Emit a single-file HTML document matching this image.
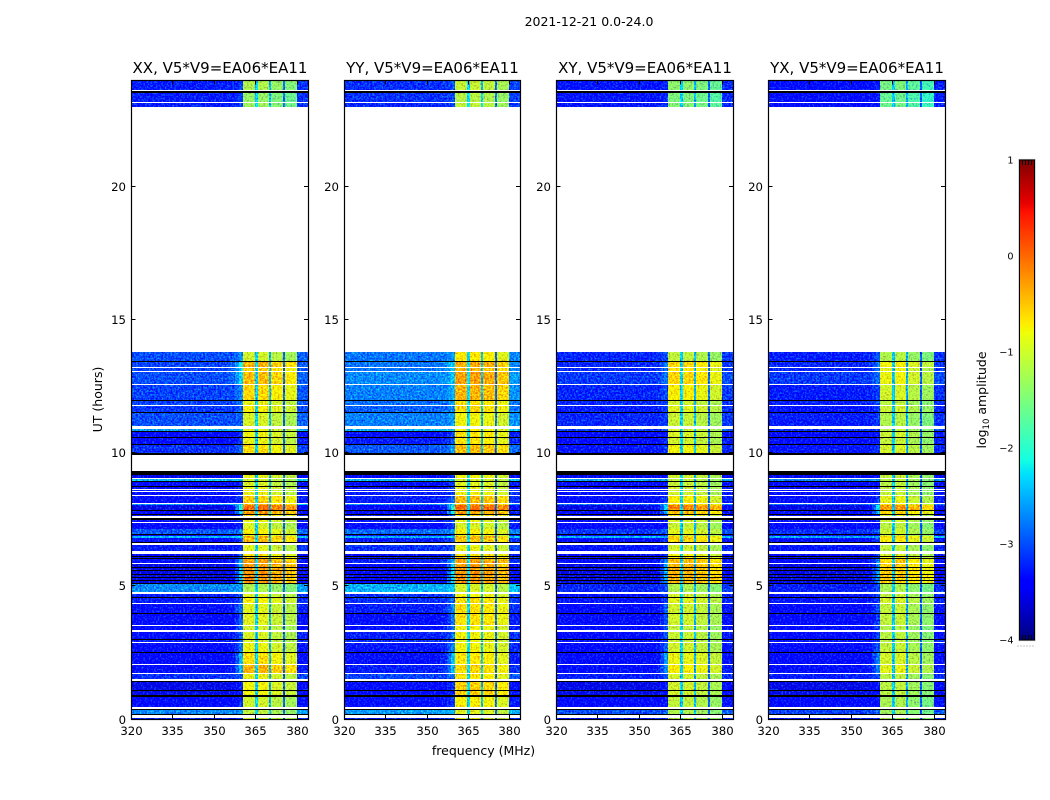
<!DOCTYPE html>
<html lang="en">
<head>
<meta charset="utf-8">
<title>2021-12-21 0.0-24.0</title>
<style>
html,body{margin:0;padding:0;background:#fff;}
svg{display:block;}
text{font-family:"DejaVu Sans","Liberation Sans",sans-serif;fill:#000;}
</style>
</head>
<body>
<svg id="figure" xmlns="http://www.w3.org/2000/svg" width="1050" height="800" viewBox="0 0 1050 800">
  <defs>
    <filter id="speckle-a" filterUnits="userSpaceOnUse" x="0" y="0" width="1050" height="800" color-interpolation-filters="sRGB">
      <feTurbulence type="fractalNoise" baseFrequency="0.55" numOctaves="2" seed="3" result="n"/>
      <feColorMatrix in="n" type="matrix" values="0.4 0 0 0 0.3  1.6 0 0 0 -0.3  0 0 0 0 0.5  0 0 0 0 1" result="m"/>
      <feComposite in="SourceGraphic" in2="m" operator="arithmetic" k1="0" k2="1" k3="0.75" k4="-0.375" result="c"/>
      <feComposite in="c" in2="SourceGraphic" operator="in"/>
    </filter>
  </defs>
  <text x="589" y="26" font-size="12.5" text-anchor="middle">2021-12-21 0.0-24.0</text>
  <text x="483.5" y="755" font-size="12.5" text-anchor="middle">frequency (MHz)</text>
  <text transform="translate(102,399.5) rotate(-90)" font-size="12.5" text-anchor="middle">UT (hours)</text>
  <text transform="translate(986,400) rotate(-90)" font-size="12.5" text-anchor="middle">log<tspan font-size="8.5" dy="3">10</tspan><tspan dy="-3"> amplitude</tspan></text>
  <g id="panels"></g>
  <g id="colorbar"></g>
</svg>
<script>
// ---- axis ticks ----
const hourTicks = [0, 5, 10, 15, 20];
const freqTicks = [320, 335, 350, 365, 380];
const colorbarTicks = [1, 0, -1, -2, -3, -4];

// ---- panels ----
const panelTitles = ["XX, V5*V9=EA06*EA11", "YY, V5*V9=EA06*EA11", "XY, V5*V9=EA06*EA11", "YX, V5*V9=EA06*EA11"];

// ---- time rows: bottom hour of each row, walking down from 24 h ----
const rowBottoms = [
  23.64,23.61,23.53,23.19,23.16,23.01,13.80,13.46,13.43,13.24,
  13.20,13.09,13.05,12.60,12.56,12.00,11.96,11.81,11.77,11.55,
  11.51,11.02,10.91,10.84,10.80,10.61,10.57,10.35,10.31,10.01,
  9.93,9.33,9.18,9.07,9.03,8.96,8.92,8.77,8.73,8.66,
  8.62,8.58,8.55,8.43,8.39,8.13,8.09,8.06,7.87,7.83,
  7.72,7.68,7.64,7.57,7.51,7.42,7.38,7.17,7.14,6.97,
  6.93,6.89,6.82,6.67,6.63,6.55,6.33,6.23,6.14,6.10,
  6.07,6.03,5.88,5.84,5.73,5.69,5.61,5.58,5.46,5.43,
  5.35,5.31,5.24,5.20,5.13,5.09,4.79,4.71,4.60,4.56,
  4.38,4.34,4.00,3.96,3.55,3.51,3.36,3.29,3.02,2.99,
  2.91,2.87,2.54,2.50,2.08,2.05,1.75,1.71,1.52,1.45,
  1.39,1.11,1.07,0.92,0.85,0.47,0.41,0.38,0.21,0.17,
  0.06,0
];
// d = data, w = no data (blank), k = flagged (black)
const rowKinds =
  "dwkdwdwdkd" + "wdwdwdkdwd" + "kdwdkdkdkd" + "kwkdwdkdkd" +
  "wdwdwdwddk" + "dkdwkdwdwd" + "kdddkwdwdk" + "dkdwdkdkdk" +
  "dkdkdkdwdk" + "dwdkdwdwdk" + "dwdkdwdwdw" + "kdkdkdwkdk" + "wd";

// ---- frequency columns (MHz edges) ----
const channelEdges = [320,328,340,350,355,357.5,359,360.4,364.8,365.8,369.8,370.5,374.9,375.6,379.9,384];
const channelRoles = ["L","L","L","L","R","R","R","B","N","B","N","B","N","B","T"];
const rampMix = [0.12, 0.5, 1];

// ---- log10 amplitude, per data row: off-band level ----
const xxLeft = [
  -3.25,-3.25,-3.25,-3.0,-3.05,-3.05,-3.0,-3.05,-3.05,-3.1,
  -3.0,-2.6,-3.45,-3.35,-3.15,-3.55,-2.5,-3.45,-3.35,-3.25,
  -3.35,-3.35,-2.6,-3.55,-3.45,-3.35,-3.35,-3.45,-2.95,-3.45,
  -2.5,-3.35,-3.25,-3.45,-3.35,-3.35,-3.55,-3.55,-3.55,-3.55,
  -3.55,-3.55,-2.7,-3.25,-3.25,-3.35,-3.45,-3.45,-3.35,-3.25,
  -3.4,-3.45,-3.35,-3.15,-3.55,-3.55,-3.45,-2.7,-3.25];
const yyLeft = [
  -3.15,-3.15,-3.2,-2.8,-2.8,-2.8,-2.7,-2.75,-2.85,-2.9,
  -2.75,-2.5,-3.35,-3.25,-2.95,-3.45,-2.5,-3.35,-3.35,-3.25,
  -3.25,-3.25,-2.7,-3.45,-3.35,-3.25,-3.25,-3.35,-2.85,-3.35,
  -2.5,-3.25,-3.15,-3.35,-3.25,-3.25,-3.45,-3.45,-3.45,-3.45,
  -3.45,-3.45,-2.5,-3.15,-3.15,-3.25,-3.35,-3.35,-3.25,-3.15,
  -3.3,-3.35,-3.25,-3.05,-3.45,-3.45,-3.35,-2.6,-3.25];
const xyLeft = [
  -3.3,-3.3,-3.3,-3.2,-3.2,-3.2,-3.1,-3.2,-3.2,-3.25,
  -3.2,-3.1,-3.4,-3.35,-3.3,-3.5,-2.6,-3.45,-3.4,-3.3,
  -3.35,-3.35,-2.8,-3.55,-3.45,-3.4,-3.35,-3.45,-3.1,-3.45,
  -2.5,-3.4,-3.3,-3.45,-3.4,-3.4,-3.55,-3.55,-3.55,-3.55,
  -3.55,-3.55,-3.2,-3.35,-3.3,-3.4,-3.45,-3.45,-3.4,-3.3,
  -3.4,-3.45,-3.35,-3.25,-3.55,-3.55,-3.45,-3.0,-3.3];
const yxLeft = [
  -3.35,-3.35,-3.35,-3.25,-3.2,-3.2,-3.1,-3.25,-3.25,-3.3,
  -3.25,-3.15,-3.4,-3.35,-3.3,-3.5,-2.7,-3.45,-3.4,-3.35,
  -3.35,-3.35,-2.85,-3.55,-3.45,-3.4,-3.35,-3.45,-3.15,-3.45,
  -2.55,-3.4,-3.3,-3.45,-3.4,-3.4,-3.55,-3.55,-3.55,-3.55,
  -3.55,-3.55,-3.25,-3.35,-3.3,-3.4,-3.45,-3.45,-3.4,-3.3,
  -3.4,-3.45,-3.35,-3.25,-3.55,-3.55,-3.45,-3.05,-3.3];

// ---- per data row: level at the low edge of the hot band ----
const xxRamp = [
  -3.1,-3.1,-3.1,-2.7,-2.2,-2.3,-2.3,-2.7,-2.8,-2.9,
  -2.9,-2.5,-3.2,-3.1,-2.9,-3.3,-2.4,-3.2,-3.2,-3.2,
  -3.2,-3.1,-2.3,-2.1,-2.3,-3.0,-3.1,-3.2,-2.7,-3.2,
  -2.3,-3.0,-3.1,-3.0,-3.0,-2.6,-2.5,-2.4,-2.4,-2.4,
  -2.4,-2.5,-2.6,-3.0,-3.0,-2.8,-2.9,-2.9,-2.9,-3.0,
  -2.8,-2.5,-2.5,-2.9,-3.2,-3.3,-3.2,-2.6,-3.1];
const yyRamp = [
  -3.0,-3.0,-3.0,-2.6,-2.3,-2.4,-2.4,-2.5,-2.6,-2.7,
  -2.6,-2.4,-3.0,-2.9,-2.6,-3.2,-2.4,-3.1,-3.1,-3.1,
  -3.1,-2.9,-2.3,-2.0,-2.2,-2.9,-3.0,-3.1,-2.6,-3.1,
  -2.3,-2.9,-3.0,-2.9,-2.9,-2.5,-2.4,-2.3,-2.3,-2.3,
  -2.3,-2.4,-2.4,-2.9,-2.9,-2.7,-2.8,-2.8,-2.8,-2.9,
  -2.7,-2.4,-2.4,-2.8,-3.1,-3.2,-3.1,-2.5,-3.0];
const xyRamp = [
  -3.2,-3.2,-3.2,-3.0,-2.8,-2.8,-2.8,-3.0,-3.0,-3.1,
  -3.1,-3.0,-3.3,-3.2,-3.1,-3.4,-2.6,-3.3,-3.3,-3.2,
  -3.2,-3.1,-2.6,-2.3,-2.5,-3.0,-3.2,-3.3,-2.9,-3.3,
  -2.5,-3.1,-3.2,-3.1,-3.1,-2.7,-2.6,-2.5,-2.5,-2.5,
  -2.5,-2.6,-3.0,-3.1,-3.1,-2.9,-3.0,-3.0,-3.0,-3.1,
  -2.9,-2.6,-2.7,-3.0,-3.3,-3.4,-3.3,-2.9,-3.2];
const yxRamp = [
  -3.25,-3.25,-3.25,-3.0,-2.8,-2.85,-2.85,-3.05,-3.05,-3.1,
  -3.1,-3.0,-3.3,-3.25,-3.1,-3.4,-2.7,-3.3,-3.3,-3.2,
  -3.2,-3.1,-2.7,-2.3,-2.6,-3.05,-3.2,-3.3,-2.95,-3.3,
  -2.6,-3.1,-3.2,-3.1,-3.1,-2.75,-2.7,-2.6,-2.6,-2.6,
  -2.6,-2.7,-3.05,-3.1,-3.1,-3.0,-3.05,-3.05,-3.05,-3.1,
  -2.95,-2.7,-2.75,-3.0,-3.3,-3.4,-3.3,-2.95,-3.2];

// ---- per data row: level of the hot band ----
const xxHot = [
  -1.25,-1.4,-1.35,-1.05,-0.45,-0.6,-0.5,-0.65,-0.9,-0.8,
  -1.0,-0.9,-0.85,-0.9,-0.7,-0.9,-1.05,-1.0,-0.9,-0.9,
  -0.9,-0.6,-0.5,-0.05,-0.3,-0.7,-0.9,-1.0,-0.8,-0.9,
  -0.45,-0.5,-0.95,-0.7,-0.6,-0.35,-0.3,-0.3,-0.3,-0.25,
  -0.3,-0.3,-1.25,-0.95,-0.8,-0.95,-0.95,-1.05,-1.0,-1.0,
  -0.9,-0.7,-0.45,-0.9,-0.85,-0.85,-1.05,-1.15,-1.0];
const yyHot = [
  -1.1,-1.2,-1.15,-0.75,-0.4,-0.5,-0.35,-0.45,-0.7,-0.65,
  -0.85,-0.8,-0.7,-0.75,-0.5,-0.85,-1.0,-0.95,-0.9,-0.9,
  -0.85,-0.5,-0.45,-0.05,-0.35,-0.7,-0.9,-1.0,-0.8,-0.9,
  -0.45,-0.55,-0.9,-0.7,-0.6,-0.35,-0.35,-0.3,-0.3,-0.3,
  -0.3,-0.3,-1.0,-0.85,-0.7,-0.7,-0.7,-0.85,-0.85,-0.9,
  -0.85,-0.75,-0.65,-0.75,-0.6,-0.6,-0.8,-0.95,-0.9];
const xyHot = [
  -1.4,-1.5,-1.45,-1.1,-0.6,-0.7,-0.6,-0.75,-1.0,-0.9,
  -1.05,-1.0,-0.95,-1.0,-0.8,-1.0,-1.1,-1.05,-1.0,-1.0,
  -1.0,-0.75,-0.6,-0.15,-0.45,-0.8,-0.95,-1.05,-0.9,-1.0,
  -0.55,-0.6,-1.0,-0.8,-0.7,-0.45,-0.4,-0.4,-0.4,-0.35,
  -0.4,-0.4,-1.2,-1.0,-0.9,-1.0,-1.0,-1.1,-1.05,-1.05,
  -1.0,-0.85,-0.75,-1.0,-1.0,-1.0,-1.1,-1.2,-1.1];
const yxHot = [
  -1.5,-1.6,-1.55,-1.15,-0.75,-0.85,-0.8,-0.95,-1.1,-1.0,
  -1.15,-1.1,-1.0,-1.05,-0.95,-1.05,-1.1,-1.1,-1.05,-1.05,
  -1.05,-0.85,-0.7,-0.25,-0.55,-0.9,-1.0,-1.1,-1.0,-1.05,
  -0.6,-0.7,-1.05,-0.9,-0.8,-0.55,-0.5,-0.5,-0.5,-0.45,
  -0.5,-0.5,-1.2,-1.05,-0.95,-1.05,-1.05,-1.15,-1.1,-1.1,
  -1.05,-0.95,-0.85,-1.1,-1.1,-1.1,-1.2,-1.25,-1.15];

// ---- per panel, per hot sub-band offset and per notch level ----
const xxBlockOffsets = [0.05, 0.05, -0.1, -0.22];
const yyBlockOffsets = [0.05, 0.05, 0, -0.15];
const xyBlockOffsets = [0, 0, -0.1, -0.25];
const yxBlockOffsets = [-0.05, 0, -0.2, -0.35];
const xxNotches = [-2.35, -2.5, -2.9];
const yyNotches = [-2.3, -2.45, -2.85];
const xyNotches = [-2.35, -2.5, -2.9];
const yxNotches = [-2.4, -2.55, -2.95];

const leftSets = [xxLeft, yyLeft, xyLeft, yxLeft];
const rampSets = [xxRamp, yyRamp, xyRamp, yxRamp];
const hotSets = [xxHot, yyHot, xyHot, yxHot];
const blockSets = [xxBlockOffsets, yyBlockOffsets, xyBlockOffsets, yxBlockOffsets];
const notchSets = [xxNotches, yyNotches, xyNotches, yxNotches];

// ---- layout ----
const SVGNS = "http://www.w3.org/2000/svg";
const panelLefts = [131, 344, 556, 768];
const panelWidths = [177, 176, 177, 177];
const PLOT_TOP = 80.5, PLOT_BOTTOM = 719.5;
const HOUR_MAX = 24, FREQ_MIN = 320, FREQ_MAX = 384;
const VMIN = -4, VMAX = 1;
const CB_X = 1019.5, CB_W = 15, CB_TOP = 160, CB_BOTTOM = 640;

function yScale(hour) { return PLOT_BOTTOM - (hour / HOUR_MAX) * (PLOT_BOTTOM - PLOT_TOP); }
function xScale(left, width, mhz) { return left + (mhz - FREQ_MIN) / (FREQ_MAX - FREQ_MIN) * width; }
function cbScale(v) { return CB_BOTTOM - (v - VMIN) / (VMAX - VMIN) * (CB_BOTTOM - CB_TOP); }

function seg(t, pts) {
  if (t <= pts[0][0]) return pts[0][1];
  for (let i = 1; i < pts.length; i++) {
    if (t <= pts[i][0]) {
      const a = pts[i - 1], b = pts[i];
      return a[1] + (b[1] - a[1]) * (t - a[0]) / (b[0] - a[0]);
    }
  }
  return pts[pts.length - 1][1];
}
function jet(v) {
  const t = Math.max(0, Math.min(1, (v - VMIN) / (VMAX - VMIN)));
  const r = seg(t, [[0, 0], [0.35, 0], [0.66, 1], [0.89, 1], [1, 0.5]]);
  const g = seg(t, [[0, 0], [0.125, 0], [0.375, 1], [0.64, 1], [0.91, 0], [1, 0]]);
  const b = seg(t, [[0, 0.5], [0.11, 1], [0.34, 1], [0.65, 0], [1, 0]]);
  return "rgb(" + Math.round(r * 255) + "," + Math.round(g * 255) + "," + Math.round(b * 255) + ")";
}
function make(tag, attrs, parent) {
  const el = document.createElementNS(SVGNS, tag);
  for (const k in attrs) el.setAttribute(k, attrs[k]);
  parent.appendChild(el);
  return el;
}
function cellValue(panel, dataRow, col) {
  const role = channelRoles[col];
  const L = leftSets[panel][dataRow], R = rampSets[panel][dataRow], H = hotSets[panel][dataRow];
  if (role === "L") return L;
  if (role === "R") return L + (R - L) * rampMix[col - channelRoles.indexOf("R")];
  if (role === "T") return L + 0.1;
  let order = 0;
  for (let i = channelRoles.indexOf("B"); i < col; i++) if (channelRoles[i] === role) order++;
  if (role === "B") return H + blockSets[panel][order];
  return notchSets[panel][order];
}

const panelsRoot = document.getElementById("panels");

panelTitles.forEach(function (title, p) {
  const left = panelLefts[p];
  const width = panelWidths[p];
  const g = make("g", {}, panelsRoot);
  
  

  const cells = make("g", { filter: "url(#speckle-a)", "shape-rendering": "crispEdges" }, g);
  
  
  const flags = make("g", { "shape-rendering": "crispEdges" }, g);
  
  

  let top = HOUR_MAX, dataRow = 0;
  rowBottoms.forEach(function (bottom, r) {
    const kind = rowKinds[r];
    const y0 = Math.round(yScale(top)), y1 = Math.round(yScale(bottom));
    if (kind === "d") {
      for (let c = 0; c < channelRoles.length; c++) {
        const x0 = Math.round(xScale(left, width, channelEdges[c])), x1 = Math.round(xScale(left, width, channelEdges[c + 1]));
        const cell = make("rect", { x: x0, y: y0, width: x1 - x0, height: Math.max(y1 - y0, 1), fill: jet(cellValue(p, dataRow, c)) }, cells);
        
        
      }
      dataRow++;
    } else if (kind === "k") {
      const line = make("rect", { x: left, y: y0, width: width, height: Math.max(y1 - y0, 1), fill: "#000" }, flags);
      
      
    }
    top = bottom;
  });

  const titleEl = make("text", { x: left + width / 2 + 0.5, y: 73, "font-size": 15, "text-anchor": "middle" }, g);
  titleEl.textContent = title;
  
  

  hourTicks.forEach(function (h) {
    const y = Math.round(yScale(h)) - 0.5;
    const t1 = make("line", { x1: left, x2: left + 4.5, y1: y, y2: y, stroke: "#000", "stroke-width": 1 }, g);
    
    
    const t2 = make("line", { x1: left + width - 4, x2: left + width, y1: y, y2: y, stroke: "#000", "stroke-width": 1 }, g);
    
    
    const lab = make("text", { x: left - 5, y: y + 4.5, "font-size": 11.7, "text-anchor": "end" }, g);
    lab.textContent = String(h);
    
    
  });

  freqTicks.forEach(function (f) {
    const x = Math.round(xScale(left, width, f)) + 0.5;
    const t1 = make("line", { x1: x, x2: x, y1: PLOT_BOTTOM - 4.5, y2: PLOT_BOTTOM, stroke: "#000", "stroke-width": 1 }, g);
    
    
    const t2 = make("line", { x1: x, x2: x, y1: PLOT_TOP, y2: PLOT_TOP + 4, stroke: "#000", "stroke-width": 1 }, g);
    
    
    const lab = make("text", { x: x, y: 735, "font-size": 11.7, "text-anchor": "middle" }, g);
    lab.textContent = String(f);
    
    
  });

  const frame = make("rect", { x: left + 0.5, y: PLOT_TOP, width: width, height: PLOT_BOTTOM - PLOT_TOP, fill: "none", stroke: "#000", "stroke-width": 1.2 }, g);
  
  
});

// ---- colorbar ----
const cbRoot = document.getElementById("colorbar");
const cbSteps = 240;
const cbCells = make("g", { "shape-rendering": "crispEdges" }, cbRoot);


for (let i = 0; i < cbSteps; i++) {
  const v = VMAX - (i + 0.5) * (VMAX - VMIN) / cbSteps;
  const y0 = Math.round(cbScale(VMAX - i * (VMAX - VMIN) / cbSteps));
  const y1 = Math.round(cbScale(VMAX - (i + 1) * (VMAX - VMIN) / cbSteps));
  const swatch = make("rect", { x: CB_X, y: y0, width: CB_W, height: y1 - y0, fill: jet(v) }, cbCells);
  
  
}
const cbHalo = make("rect", { x: CB_X - 0.7, y: CB_TOP - 0.7, width: CB_W + 1.4, height: CB_BOTTOM - CB_TOP + 1.4, fill: "none", stroke: "#bbb", "stroke-width": 0.8 }, cbRoot);


const cbFrame = make("rect", { x: CB_X, y: CB_TOP, width: CB_W, height: CB_BOTTOM - CB_TOP, fill: "none", stroke: "#000", "stroke-width": 1 }, cbRoot);


colorbarTicks.forEach(function (v) {
  const lab = make("text", { x: 1013.5, y: cbScale(v) + 3.5, "font-size": 9.7, "text-anchor": "end" }, cbRoot);
  lab.textContent = v < 0 ? "\u2212" + Math.abs(v) : String(v);
  
  
});
[1022.5, 1025.5, 1028.5, 1031.5].forEach(function (x) {
  const a = make("line", { x1: x, x2: x, y1: CB_TOP, y2: CB_TOP + 5, stroke: "#000", "stroke-width": 1 }, cbRoot);
  
  
  const b = make("line", { x1: x, x2: x, y1: CB_BOTTOM - 5, y2: CB_BOTTOM, stroke: "#000", "stroke-width": 1 }, cbRoot);
  
  
});
[1017.5, 1020.5, 1023.5, 1026.5, 1029.5, 1032.5].forEach(function (x) {
  const d = make("rect", { x: x, y: 645.5, width: 1, height: 1, fill: "#888" }, cbRoot);
  
  
});
</script>
</body>
</html>
